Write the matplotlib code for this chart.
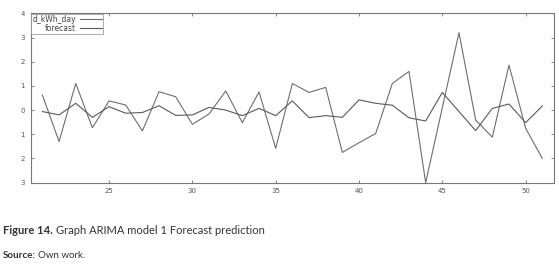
import numpy as np
import matplotlib.pyplot as plt

days = np.arange(21, 52)
d_kwh_day = [0.62, -1.3, 1.1, -0.73, 0.38, 0.21, -0.86, 0.76, 0.55, -0.59,
             -0.16, 0.79, -0.52, 0.75, -1.58, 1.1, 0.73, 0.94, -1.75, -1.35,
             -0.97, 1.1, 1.6, -3.0, 0.1, 3.2, -0.41, -1.12, 1.86, -0.75, -2.0]
forecast = [-0.06, -0.2, 0.28, -0.3, 0.14, -0.13, -0.1, 0.18, -0.22, -0.2,
            0.11, 0.0, -0.23, 0.07, -0.23, 0.38, -0.31, -0.23, -0.3, 0.42,
            0.28, 0.2, -0.32, -0.45, 0.73, -0.06, -0.85, 0.07, 0.25, -0.52, 0.17]
xticks = [25, 30, 35, 40, 45, 50]
yticks = [4, 3, 2, 1, 0, -1, -2, -3]
ytick_labels = ["4", "3", "2", "1", "0", "1", "2", "3"]  # minus signs lost in the original

fig = plt.figure(figsize=(5.59, 2.67), dpi=100)
ax = fig.add_axes([0.055, 0.316, 0.936, 0.634])

ax.plot(days, d_kwh_day, color='#6e6e6e', lw=0.8, label="d_kWh_day")
ax.plot(days, forecast, color='#5a5a5a', lw=0.8, label="forecast")

ax.set_xlim(20.3, 51.7)
ax.set_ylim(-3, 4)
ax.set_xticks(xticks)
ax.set_yticks(yticks)
ax.set_yticklabels(ytick_labels)
ax.tick_params(direction='in', length=2.5, width=0.5, labelsize=5,
               colors='#555555', top=True, right=True, pad=4)
for s in ax.spines.values():
    s.set_color('#777777')
    s.set_linewidth(0.8)

leg = ax.legend(loc='upper left', markerfirst=False, fontsize=5.5, frameon=True,
                fancybox=False, borderaxespad=0.05, borderpad=0.15,
                labelspacing=0.0, handlelength=2.8, handletextpad=0.6)
leg.get_frame().set_edgecolor('#888888')
leg.get_frame().set_linewidth(0.6)
for t in leg.get_texts():
    t.set_ha('right')
    t.set_color('#444444')

ycap = 1 - 231 / 267
ysrc = 1 - 256 / 267
cap = fig.text(0.005, ycap, "Figure 14.", fontsize=8, va='center',
               family='Lato', weight='bold', color='#333333')
fig.canvas.draw()
bb = cap.get_window_extent().transformed(fig.transFigure.inverted())
fig.text(bb.x1 + 0.006, ycap, "Graph ARIMA model 1 Forecast prediction",
         fontsize=8, va='center', family='Lato', color='#333333')

src = fig.text(0.005, ysrc, "Source:", fontsize=7, va='center',
               family='Lato', weight='bold', color='#333333')
fig.canvas.draw()
bb = src.get_window_extent().transformed(fig.transFigure.inverted())
fig.text(bb.x1 + 0.005, ysrc, "Own work.", fontsize=7, va='center',
         family='Lato', color='#333333')

fig.savefig("out.png", dpi=100)
